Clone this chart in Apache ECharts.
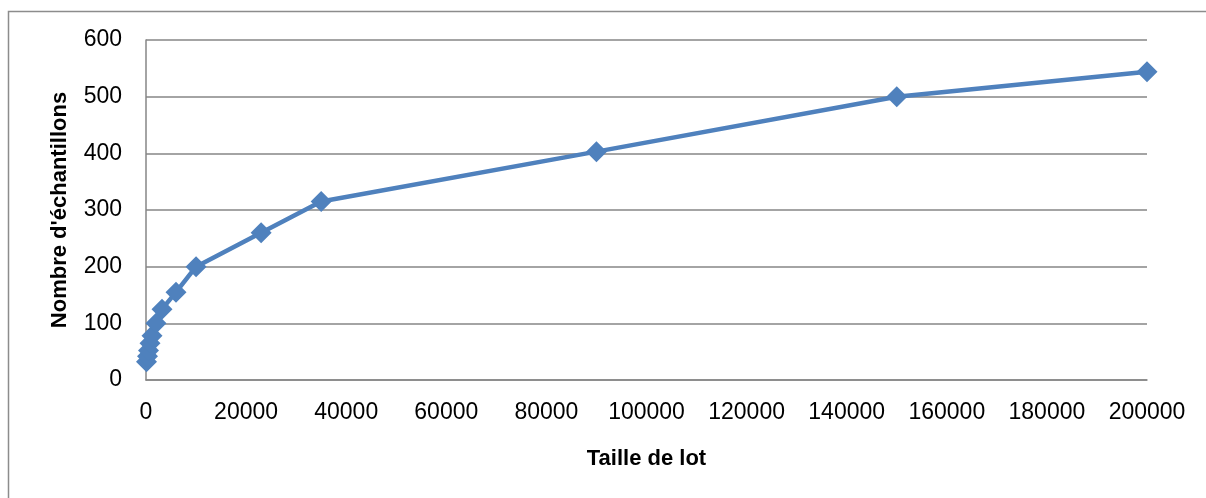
<!DOCTYPE html>
<html>
<head>
<meta charset="utf-8">
<script src="https://cdn.jsdelivr.net/npm/echarts@6/dist/echarts.min.js"></script>
<style>
html,body{margin:0;padding:0;background:#fff;}
#c{width:1206px;height:498px;}
</style>
</head>
<body>
<div id="c"></div>
<script>
var lotSizes = [100, 300, 500, 800, 1200, 2000, 3200, 6000, 10000, 23000, 35000, 90000, 150000, 200000];
var sampleCounts = [32, 42, 52, 65, 78, 100, 125, 155, 200, 260, 315, 403, 500, 544];
var xTitle = 'Taille de lot';
var yTitle = "Nombre d'échantillons";

var pts = lotSizes.map(function (x, i) { return [x, sampleCounts[i]]; });
var chart = echarts.init(document.getElementById('c'), null, {renderer: 'canvas'});
var font = 'Liberation Sans, Arial, sans-serif';
chart.setOption({
  animation: false,
  backgroundColor: '#ffffff',
  graphic: [{
    type: 'rect', left: 6, top: 9, silent: true,
    shape: {x: 0, y: 0, width: 1260, height: 560},
    style: {fill: 'none', stroke: '#8c8c8c', lineWidth: 1.5}
  }],
  grid: {left: 146, right: 59, top: 40, bottom: 118},
  xAxis: {
    type: 'value', min: 0, max: 200000, interval: 20000,
    name: xTitle, nameLocation: 'middle', nameGap: 68,
    nameTextStyle: {fontFamily: font, fontSize: 22, fontWeight: 'bold', color: '#000'},
    axisLine: {show: true, lineStyle: {color: '#868686', width: 1.5}},
    axisTick: {show: false},
    splitLine: {show: false},
    axisLabel: {fontFamily: font, fontSize: 23, color: '#000', margin: 21,
      formatter: function (v) { return String(v); }}
  },
  yAxis: {
    type: 'value', min: 0, max: 600, interval: 100,
    name: yTitle, nameLocation: 'middle', nameGap: 75, nameRotate: 90,
    nameTextStyle: {fontFamily: font, fontSize: 22, fontWeight: 'bold', color: '#000'},
    axisLine: {show: true, lineStyle: {color: '#868686', width: 1.5}},
    axisTick: {show: false},
    splitLine: {show: true, lineStyle: {color: '#868686', width: 1.5}},
    axisLabel: {fontFamily: font, fontSize: 23, color: '#000', margin: 24}
  },
  series: [{
    type: 'line', data: pts,
    symbol: 'diamond', symbolSize: 21,
    lineStyle: {color: '#4F81BD', width: 4.5},
    itemStyle: {color: '#4F81BD'}
  }]
});
</script>
</body>
</html>
